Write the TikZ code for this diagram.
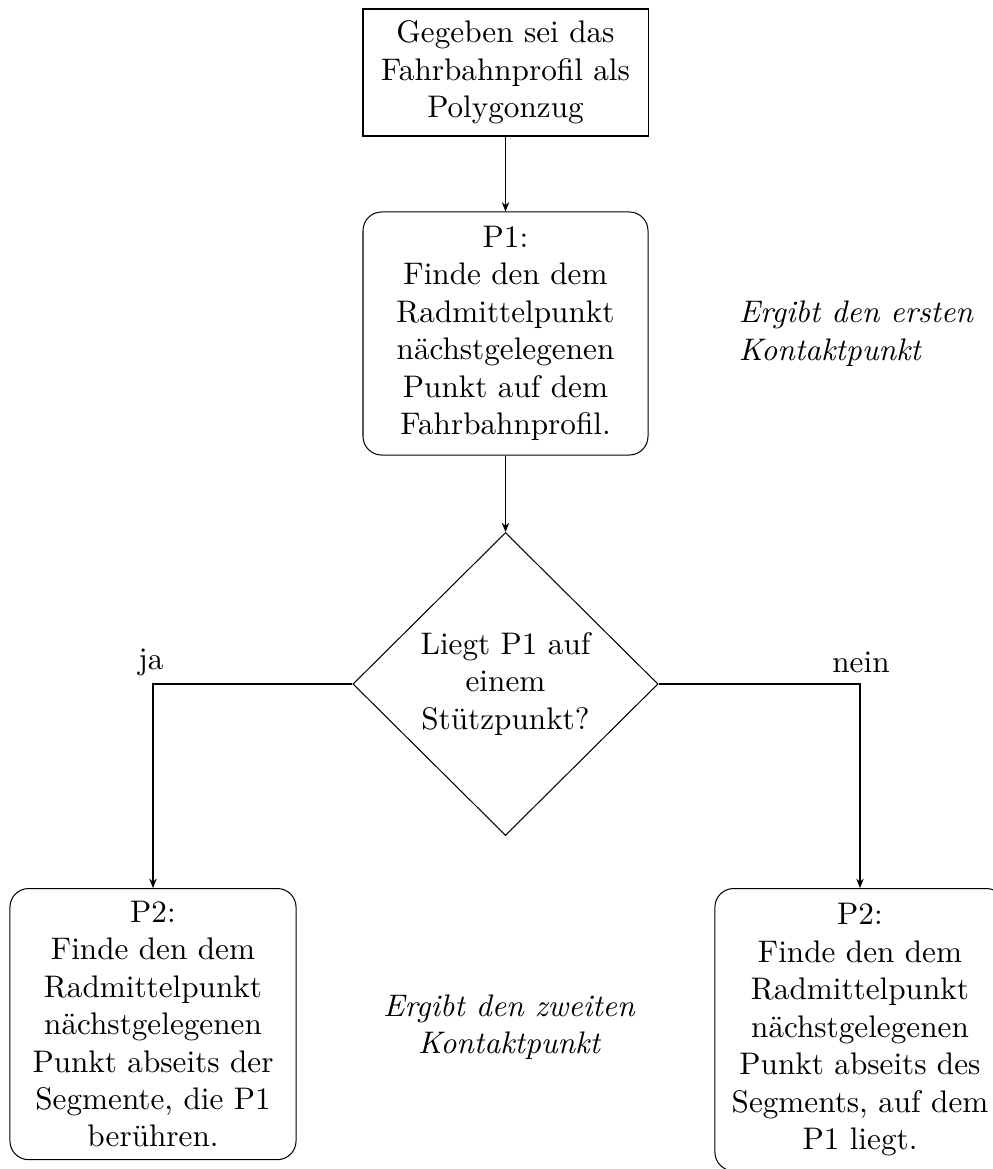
\documentclass[tikz,border=0pt]{standalone}
\usetikzlibrary{shapes.geometric,arrows.meta}
\begin{document}
\begin{tikzpicture}[x=0.3205pt,y=-0.3205pt,
  every node/.style={inner sep=3.33pt},
  line width=0.33pt,
  plainbox/.style={draw, rectangle, align=center, minimum width=91.35pt, minimum height=40.7pt},
  procbox/.style={draw, rectangle, rounded corners=6pt, align=center, minimum width=91.7pt},
  decbox/.style={draw, diamond, align=center, inner sep=0pt, minimum width=97.8pt, minimum height=97.1pt},
  note/.style={font=\itshape},
  conn/.style={-{Stealth[length=3pt,width=2.4pt,inset=1pt]}}
]
\useasboundingbox (0,0) rectangle (993,1169);

\node[plainbox] (top) at (505.5,72.5) {Gegeben sei das\\Fahrbahnprofil als\\Polygonzug};
\node[procbox, minimum width=91.35pt, minimum height=77.9pt] (p1) at (505.5,333.5)
  {P1:\\Finde den dem\\Radmittelpunkt\\nächstgelegenen\\Punkt auf dem\\Fahrbahnprofil.};
\node[decbox] (dec) at (505.5,684) {Liegt P1 auf\\einem\\Stützpunkt?};

\node[procbox, anchor=north, minimum height=86.9pt] (left) at (153,888)
  {P2:\\Finde den dem\\Radmittelpunkt\\nächstgelegenen\\Punkt abseits der\\Segmente, die P1\\berühren.};
\node[procbox, anchor=north, minimum width=93pt, minimum height=90.5pt] (right) at (860,888)
  {P2:\\Finde den dem\\Radmittelpunkt\\nächstgelegenen\\Punkt abseits des\\Segments, auf dem\\P1 liegt.};

\node[note, anchor=west, align=left] (n1) at (728,333.5) {Ergibt den ersten\\Kontaktpunkt};
\node[note, align=center] (n2) at (509,1027) {Ergibt den zweiten\\Kontaktpunkt};

\node (ja) at (151,662) {ja};
\node (nein) at (861,662) {nein};

\draw[conn] (top) -- (p1);
\draw[conn] (p1) -- (dec);
\draw[conn] (dec.west) -| (left.north);
\draw[conn] (dec.east) -| (right.north);
\end{tikzpicture}
\end{document}
